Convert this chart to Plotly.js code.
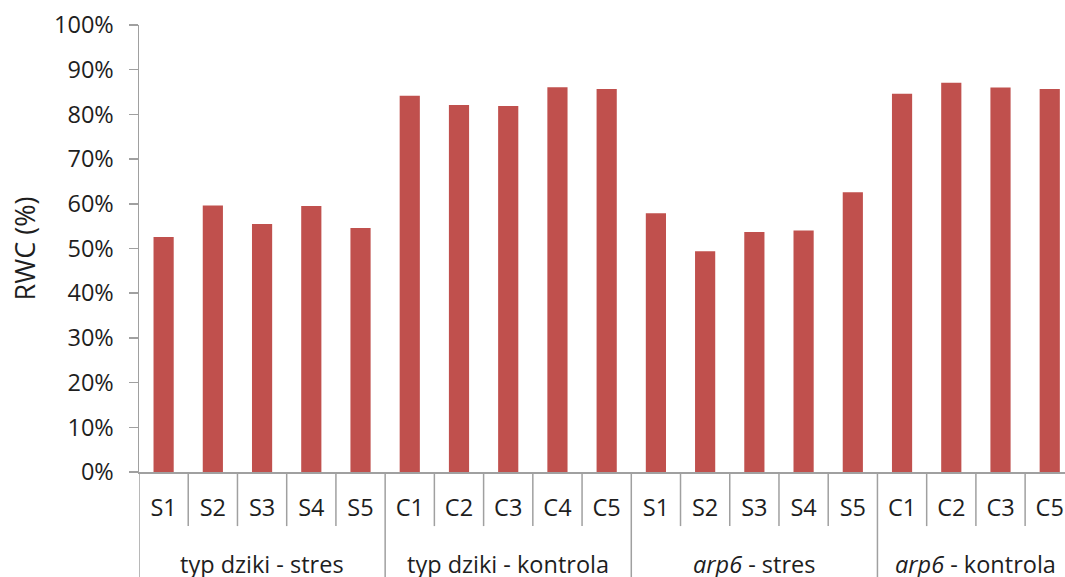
<!DOCTYPE html>
<html>
<head>
<meta charset="utf-8">
<script src="https://cdn.plot.ly/plotly-3.0.1.min.js"></script>
<style>html,body{margin:0;padding:0;background:#fff;}#chart{width:1065px;height:577px;}</style>
</head>
<body>
<div id="chart"></div>
<script>
// Data
const groupLabels = ["typ dziki - stres", "typ dziki - kontrola", "<i>arp6</i> - stres", "<i>arp6</i> - kontrola"];
const subLabels = [
  ["S1", "S2", "S3", "S4", "S5"],
  ["C1", "C2", "C3", "C4", "C5"],
  ["S1", "S2", "S3", "S4", "S5"],
  ["C1", "C2", "C3", "C5"]
];
const rwcValues = [
  [0.526, 0.596, 0.555, 0.595, 0.546],
  [0.842, 0.821, 0.819, 0.861, 0.857],
  [0.579, 0.494, 0.537, 0.540, 0.626],
  [0.846, 0.871, 0.860, 0.857]
];
const yTickVals = [0, 0.1, 0.2, 0.3, 0.4, 0.5, 0.6, 0.7, 0.8, 0.9, 1.0];

// Build flat arrays
const xs = [], ys = [], tickText = [];
const groupStarts = [], groupCenters = [];
let idx = 0;
subLabels.forEach((subs, g) => {
  groupStarts.push(idx);
  groupCenters.push(idx + (subs.length - 1) / 2);
  subs.forEach((s, k) => {
    xs.push(idx);
    ys.push(rwcValues[g][k]);
    tickText.push(s);
    idx++;
  });
});

const lineColor = "#a0a0a0";
const textColor = "#1e1e1e";
const fontFam = "Open Sans, Noto Sans, sans-serif";

const shapes = [];
// short separators between categories, long ones between groups
for (let i = 1; i < xs.length; i++) {
  const isGroup = groupStarts.indexOf(i) >= 0;
  shapes.push({
    type: "line", xref: "x", yref: "paper",
    x0: i - 0.5, x1: i - 0.5,
    y0: 0, y1: isGroup ? -0.30 : -0.121,
    line: {color: lineColor, width: 1.5}
  });
}
// left outer separator
shapes.push({
  type: "line", xref: "x", yref: "paper",
  x0: -0.5, x1: -0.5, y0: 0, y1: -0.30,
  line: {color: lineColor, width: 1.5}
});

const annotations = groupLabels.map((lab, g) => ({
  text: lab, xref: "x", yref: "paper",
  x: groupCenters[g], y: -0.205,
  xanchor: "center", yanchor: "middle",
  showarrow: false,
  font: {family: fontFam, size: 23.5, color: textColor}
}));

const trace = {
  type: "bar",
  x: xs,
  y: ys,
  width: 0.41,
  marker: {color: "#C0504D"},
  hoverinfo: "none"
};

const layout = {
  width: 1065, height: 577,
  margin: {l: 139, r: 0, t: 25, b: 105},
  paper_bgcolor: "#ffffff", plot_bgcolor: "#ffffff",
  showlegend: false,
  font: {family: fontFam, color: textColor},
  xaxis: {
    range: [-0.5, 18.31],
    tickmode: "array", tickvals: xs, ticktext: tickText,
    ticks: "", showgrid: false, zeroline: false,
    showline: true, linecolor: lineColor, linewidth: 1.5,
    tickfont: {family: fontFam, size: 23.5, color: textColor},
    ticklabelstandoff: 14,
    fixedrange: true
  },
  yaxis: {
    range: [0, 1],
    tickmode: "array", tickvals: yTickVals,
    tickformat: ".0%",
    ticks: "outside", ticklen: 9, tickwidth: 1.5, tickcolor: lineColor,
    showgrid: false, zeroline: false,
    showline: true, linecolor: lineColor, linewidth: 1.5,
    tickfont: {family: fontFam, size: 23.5, color: textColor},
    ticklabelstandoff: 10,
    title: {text: "RWC (%)", font: {family: fontFam, size: 27, color: textColor}, standoff: 10},
    fixedrange: true
  },
  shapes: shapes,
  annotations: annotations
};

Plotly.newPlot("chart", [trace], layout, {displayModeBar: false, staticPlot: true});
</script>
</body>
</html>
